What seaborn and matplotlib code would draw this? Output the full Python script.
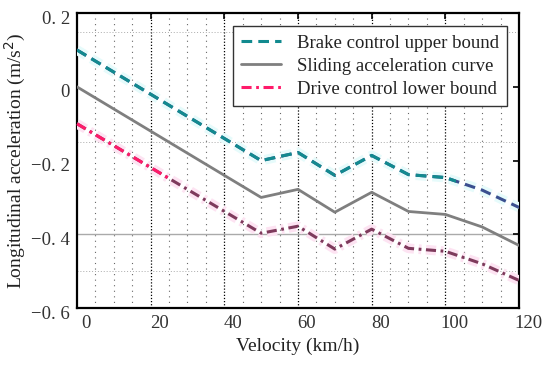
import matplotlib
matplotlib.use("Agg")
import matplotlib.pyplot as plt
import matplotlib.transforms as mtransforms
import matplotlib.patheffects as pe
from matplotlib.lines import Line2D
from matplotlib.patches import Rectangle
import seaborn as sns
import numpy as np

# data
velocity = [0, 50, 60, 70, 80, 90, 100, 110, 120]
sliding = [0.0, -0.30, -0.278, -0.34, -0.286, -0.338, -0.346, -0.38, -0.43]
brake_upper = [0.10, -0.20, -0.178, -0.24, -0.186, -0.238, -0.246, -0.28, -0.327]
drive_lower = [-0.10, -0.397, -0.378, -0.44, -0.386, -0.438, -0.446, -0.48, -0.525]

labels = ["Brake control upper bound", "Sliding acceleration curve",
          "Drive control lower bound"]
xticks = [0, 20, 40, 60, 80, 100, 120]
yticks = [0.2, 0.0, -0.2, -0.4, -0.6]
yticklabels = ["0. 2", "0", "\u22120. 2", "\u22120. 4", "\u22120. 6"]

sns.set_style("white")
plt.rcParams["font.family"] = ["Liberation Serif", "DejaVu Serif"]

fig = plt.figure(figsize=(5.5, 3.65), dpi=100)
ax = fig.add_axes([0.14, 0.156, 0.8036, 0.808])

# grid (odd MATLAB-ish look)
for v in np.arange(5, 120, 5):
    if v % 20 == 0:
        ax.axvline(v, color="black", lw=0.9, ls=(0, (1, 1.5)), zorder=0)
    else:
        ax.axvline(v, color="#666666", lw=0.8, ls=(0, (1, 4)), zorder=0)
for h in [0.15, -0.15, -0.5]:
    ax.axhline(h, color="#aaaaaa", lw=0.7, ls=(0, (1, 2)), zorder=0)
ax.axhline(-0.4, color="#aaaaaa", lw=1.0, zorder=0)

# brake upper bound: teal, bluish near the end
sns.lineplot(x=velocity, y=brake_upper, ax=ax, color="#3b4f8f", lw=2.2,
             linestyle=(0, (3.5, 2)), zorder=3,
             path_effects=[pe.Stroke(linewidth=7, foreground="#e6fbfb"), pe.Normal()])
top = sns.lineplot(x=velocity, y=brake_upper, ax=ax, color="#128a8f", lw=2.2,
                   linestyle=(0, (3.5, 2)), zorder=4).lines[-1]
top.set_clip_path(Rectangle((0, -1), 103, 2, transform=ax.transData))

# sliding curve
sns.lineplot(x=velocity, y=sliding, ax=ax, color="#7f7f7f", lw=2.0, zorder=3)

# drive lower bound: pink at the start, mauve with pink halo after
sns.lineplot(x=velocity, y=drive_lower, ax=ax, color="#7e3a5c", lw=2.2,
             linestyle=(0, (3.3, 1.5, 0.9, 1.5)), zorder=3,
             path_effects=[pe.Stroke(linewidth=7, foreground="#fde3f2"), pe.Normal()])
dl = sns.lineplot(x=velocity, y=drive_lower, ax=ax, color="#ff1a6a", lw=2.2,
                  linestyle=(0, (3.3, 1.5, 0.9, 1.5)), zorder=4).lines[-1]
dl.set_clip_path(Rectangle((-5, -1), 30, 2, transform=ax.transData))

ax.set_xlim(0, 120)
ax.set_ylim(-0.6, 0.2)
ax.set_xticks(xticks)
ax.set_xticklabels([str(t) for t in xticks])
ax.set_yticks(yticks)
ax.set_yticklabels(yticklabels)
ax.tick_params(direction="in", length=4, width=1.2, top=True, right=True,
               labelsize=13.5, colors="black", labelcolor="#333333", pad=5)
for s in ax.spines.values():
    s.set_linewidth(1.6)
    s.set_color("black")

# MATLAB export nudges the labels a bit
dx = mtransforms.ScaledTranslation(0.09, 0, fig.dpi_scale_trans)
for lab in ax.get_xticklabels():
    lab.set_transform(lab.get_transform() + dx)
dy = mtransforms.ScaledTranslation(0, -0.04, fig.dpi_scale_trans)
for lab in ax.get_yticklabels():
    lab.set_transform(lab.get_transform() + dy)

ax.set_xlabel("Velocity (km/h)", fontsize=14, color="#222222", labelpad=4)
ax.set_ylabel("Longitudinal acceleration (m/s$^2$)", fontsize=14,
              color="#222222", labelpad=2)

handles = [
    Line2D([], [], color="#128a8f", lw=2.2, linestyle=(0, (3.5, 2))),
    Line2D([], [], color="#7f7f7f", lw=2.0),
    Line2D([], [], color="#ff1a6a", lw=2.2, linestyle=(0, (3.3, 1.5, 0.9, 1.5))),
]
leg = ax.legend(handles, labels, loc="upper right", bbox_to_anchor=(0.973, 0.956),
                borderaxespad=0, fontsize=13.5, frameon=True, fancybox=False,
                edgecolor="#333333", handlelength=2.1, handletextpad=0.85,
                borderpad=0.45, labelspacing=0.32, framealpha=1)
leg.get_frame().set_linewidth(1.0)
for t in leg.get_texts():
    t.set_color("#222222")

fig.savefig("out.png", dpi=100)
